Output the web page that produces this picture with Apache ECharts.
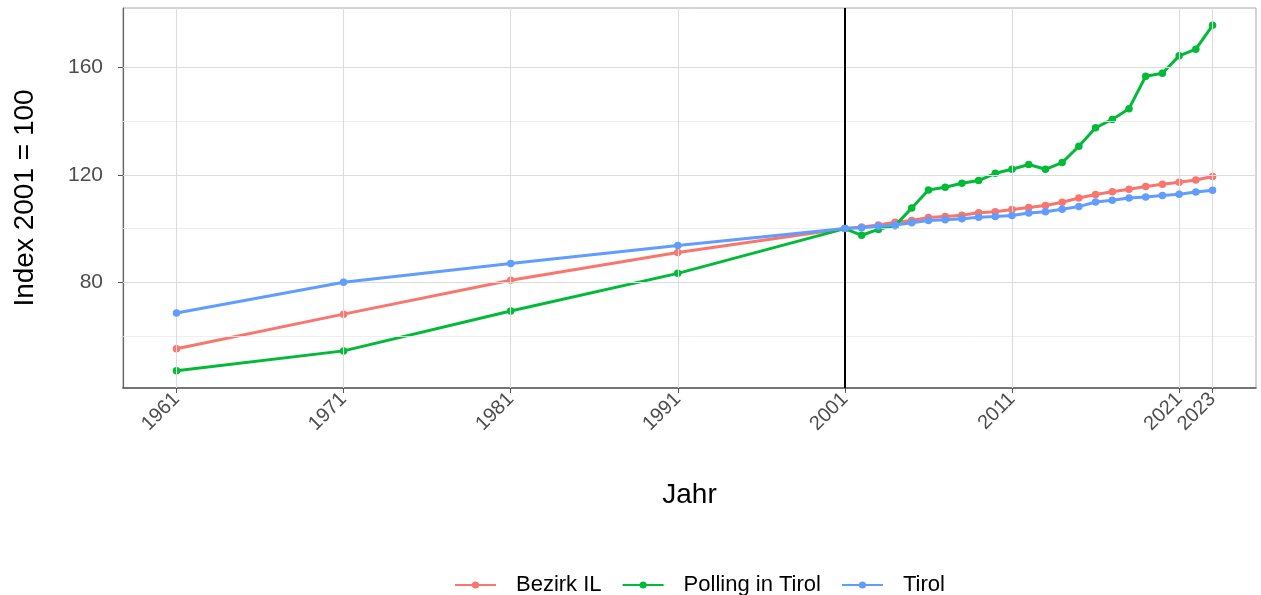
<!DOCTYPE html>
<html>
<head>
<meta charset="utf-8">
<script src="https://cdn.jsdelivr.net/npm/echarts@6/dist/echarts.min.js"></script>
<style>html,body{margin:0;padding:0;background:#fff}#c{width:1261px;height:595px}</style>
</head>
<body>
<div id="c"></div>
<script>
const years = [1961,1971,1981,1991,2001,2002,2003,2004,2005,2006,2007,2008,2009,2010,2011,2012,2013,2014,2015,2016,2017,2018,2019,2020,2021,2022,2023];
const bezirkIL = [55.2,68.1,80.7,91.1,100,100.6,101.3,102.4,103.0,104.1,104.5,105.0,105.9,106.3,107.1,107.9,108.6,109.8,111.4,112.7,113.7,114.7,115.7,116.5,117.3,118.1,119.4];
const polling = [47.0,54.4,69.3,83.3,100,97.5,99.7,101.1,107.7,114.4,115.4,116.9,117.9,120.6,122.1,123.9,122.1,124.6,130.7,137.6,140.7,144.7,156.8,157.9,164.4,166.9,175.8];
const tirol = [68.5,80.0,87.0,93.7,100,100.3,100.9,101.3,102.2,103.0,103.3,103.7,104.2,104.5,104.9,105.8,106.3,107.2,108.2,109.9,110.6,111.4,111.8,112.3,112.8,113.6,114.3];
const xTicks = [1961,1971,1981,1991,2001,2011,2021,2023];
const yMajor = [80,120,160];
const yMinor = [60,100,140];
const refYear = 2001;

const pair = vals => years.map((y,i)=>[y, vals[i]]);
const chart = echarts.init(document.getElementById('c'), null, {renderer:'canvas'});
const gridLines = []
  .concat(yMinor.map(v=>({yAxis:v, lineStyle:{color:'#ebebeb', width:0.8, type:'solid'}})))
  .concat(yMajor.map(v=>({yAxis:v, lineStyle:{color:'#dcdcdc', width:1.1, type:'solid'}})))
  .concat(xTicks.filter(v=>v!==refYear).map(v=>({xAxis:v, lineStyle:{color:'#dcdcdc', width:1.1, type:'solid'}})));

const mkSeries = (name, vals, color, z) => ({
  name, type:'line', data: pair(vals), z,
  symbol:'circle', symbolSize:7.5, showSymbol:true,
  lineStyle:{color, width:3}, itemStyle:{color},
  emphasis:{disabled:true}
});

chart.setOption({
  animation:false,
  backgroundColor:'#fff',
  grid:{left:123, top:8, right:5, bottom:207, show:true, borderColor:'#a8a8a8', borderWidth:1},
  xAxis:{
    type:'value', min:1957.8, max:2025.6,
    name:'Jahr', nameLocation:'middle', nameGap:93,
    nameTextStyle:{fontFamily:'Liberation Sans', fontSize:28, color:'#000'},
    axisLine:{show:true, onZero:false, lineStyle:{color:'#555', width:1.6}},
    axisTick:{show:true, length:5, customValues:xTicks, lineStyle:{color:'#555'}},
    axisLabel:{customValues:xTicks, formatter:v=>String(v), rotate:45, margin:8, fontFamily:'Liberation Sans', fontSize:20, color:'#4d4d4d'},
    splitLine:{show:false}
  },
  yAxis:{
    type:'value', min:40.56, max:182.24,
    name:'Index 2001 = 100', nameLocation:'middle', nameGap:84,
    nameTextStyle:{fontFamily:'Liberation Sans', fontSize:28, color:'#000'},
    axisLine:{show:true, onZero:false, lineStyle:{color:'#666', width:1.2}},
    axisTick:{show:true, length:5, customValues:yMajor, lineStyle:{color:'#555'}},
    axisLabel:{customValues:yMajor, formatter:v=>String(v), margin:20, fontFamily:'Liberation Sans', fontSize:21, color:'#4d4d4d'},
    splitLine:{show:false}
  },
  legend:{
    left:449, top:569, itemWidth:41, itemHeight:9, itemGap:20,
    textStyle:{fontFamily:'Liberation Sans', fontSize:22, color:'#000', padding:[0,0,0,15]},
    data:['Bezirk IL','Polling in Tirol','Tirol']
  },
  series:[
    {type:'line', data:[], silent:true, z:1,
      markLine:{silent:true, symbol:['none','none'], label:{show:false}, animation:false,
        emphasis:{disabled:true}, data: gridLines.concat([{xAxis:refYear, lineStyle:{color:'#000', width:2, type:'solid'}}])}},
    mkSeries('Bezirk IL', bezirkIL, '#F8766D', 3),
    mkSeries('Polling in Tirol', polling, '#00BA38', 4),
    mkSeries('Tirol', tirol, '#619CFF', 5)
  ]
});
</script>
</body>
</html>
